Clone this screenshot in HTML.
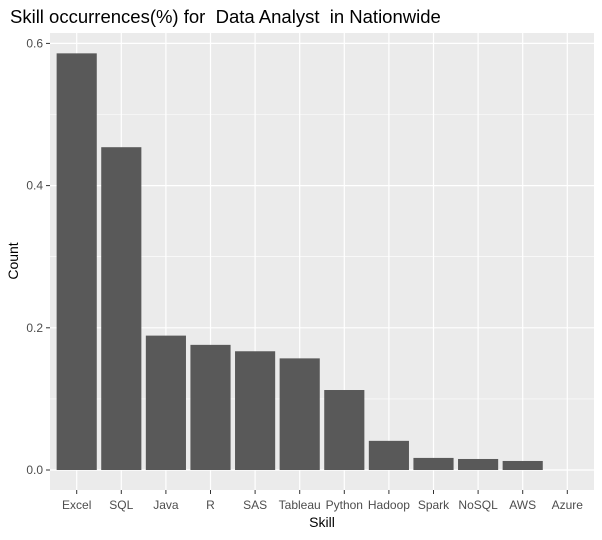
<!DOCTYPE html>
<html><head><meta charset="utf-8"><style>
body{margin:0;background:#fff;font-family:"Liberation Sans",Arial,sans-serif}
text{white-space:pre}
</style></head><body>
<svg id="chart" width="602" height="535" xmlns="http://www.w3.org/2000/svg" font-family="Liberation Sans, Arial, sans-serif">
<text x="10" y="23" font-size="18.5" fill="#000" xml:space="preserve">Skill occurrences(%) for  Data Analyst  in Nationwide</text>
<rect x="50" y="33" width="544" height="457" fill="#ebebeb"/>
<g id="grid"></g><g id="bars"></g><g id="axes"></g>
<text x="322" y="527" font-size="14" text-anchor="middle">Skill</text>
<text transform="translate(18,261) rotate(-90)" font-size="14" text-anchor="middle">Count</text>
</svg>
<script>
const categories=["Excel","SQL","Java","R","SAS","Tableau","Python","Hadoop","Spark","NoSQL","AWS","Azure"];
const values=[0.586,0.454,0.189,0.176,0.167,0.157,0.1125,0.041,0.017,0.0155,0.0127,0];
const yTicks=[0,0.2,0.4,0.6];
const yTickLabels=["0.0","0.2","0.4","0.6"];
const NS="http://www.w3.org/2000/svg";
const y=v=>470-v*711;
const step=44.6, x=i=>76.7+i*step, bw=step*0.9;
function mk(p,t,a){const e=document.createElementNS(NS,t);for(const k in a)e.setAttribute(k,a[k]);p.appendChild(e);return e;}
const grid=document.getElementById('grid'),bars=document.getElementById('bars'),axes=document.getElementById('axes');
for(let i=0;i<yTicks.length-1;i++){const m=(yTicks[i]+yTicks[i+1])/2;
 const l=mk(grid,'line',{x1:50,x2:594,y1:y(m),y2:y(m),stroke:'#fff','stroke-width':0.6});
 
 }
yTicks.forEach((t,i)=>{
 const l=mk(grid,'line',{x1:50,x2:594,y1:y(t),y2:y(t),stroke:'#fff','stroke-width':1.2});
 
 
 mk(axes,'line',{x1:46,x2:50,y1:y(t),y2:y(t),stroke:'#333','stroke-width':1});
 const tx=mk(axes,'text',{x:43,y:y(t)+4,'font-size':12,fill:'#4d4d4d','text-anchor':'end'});tx.textContent=yTickLabels[i];
 
 
});
categories.forEach((c,i)=>{
 const l=mk(grid,'line',{x1:x(i),x2:x(i),y1:33,y2:490,stroke:'#fff','stroke-width':1.2});
 
 
 const r=mk(bars,'rect',{x:x(i)-bw/2,y:y(values[i]),width:bw,height:470-y(values[i]),fill:'#595959'});
 
 
 mk(axes,'line',{x1:x(i),x2:x(i),y1:490,y2:494,stroke:'#333','stroke-width':1});
 const tx=mk(axes,'text',{x:x(i),y:509,'font-size':12,fill:'#4d4d4d','text-anchor':'middle'});tx.textContent=c;
 
 
});
</script>
</body></html>
